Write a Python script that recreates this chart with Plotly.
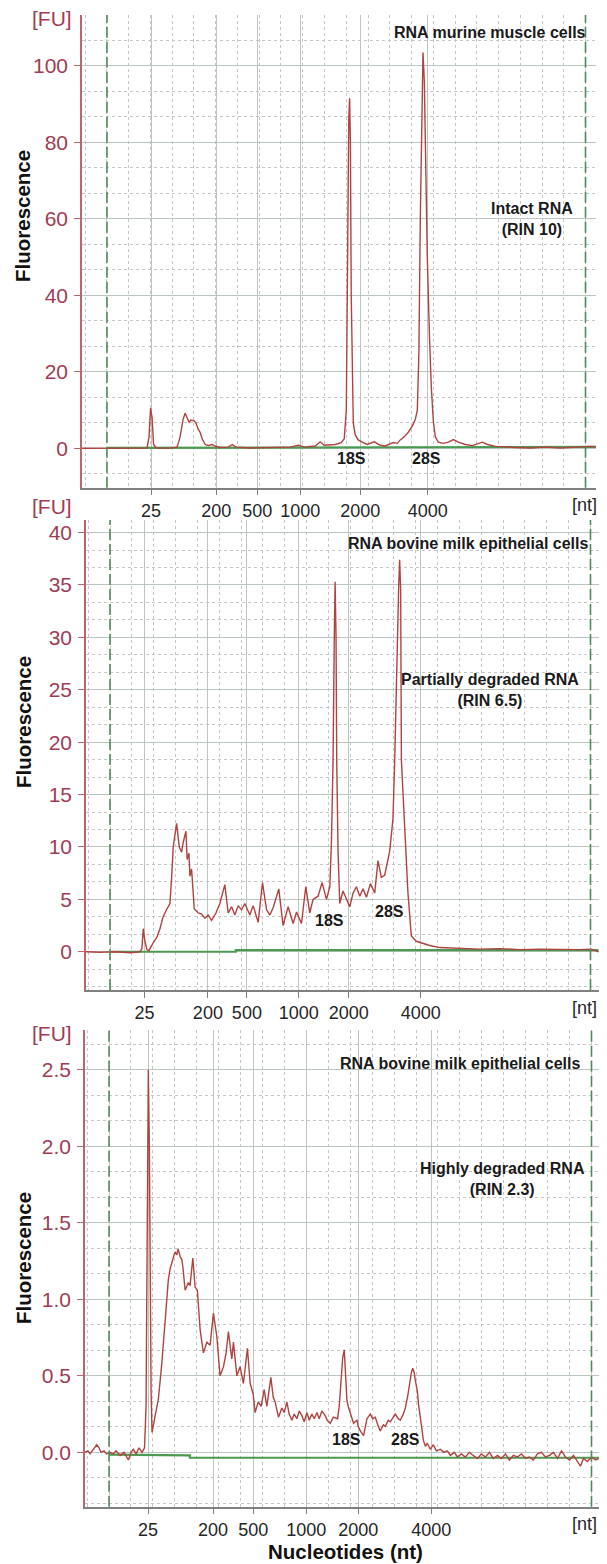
import plotly.graph_objects as go

W, H = 607, 1564          # browser window
OFF = 8                   # default page margin of the html body
FW, FH = W - OFF, H - OFF  # figure size

# ---------------- data ----------------
ladder_labels = ["25", "200", "500", "1000", "2000", "4000"]

# Panel 1 : RNA murine muscle cells, intact (RIN 10) - migration time (s) vs FU
p1_ladder_t = [25.72, 32.05, 36.04, 40.23, 46.07, 52.64]
p1_markers_t = [21.43, 67.98]
p1_points = [
    (19.0, 0.0), (20.75, 0.05), (22.70, 0.0), (24.65, 0.05), (25.33, 0.1), (25.52, 3.0),
    (25.67, 10.5), (25.82, 8.0), (25.96, 1.0), (26.21, 0.1), (27.57, 0.05), (28.25, 0.3),
    (28.54, 3.0), (28.83, 7.5), (29.03, 9.2), (29.22, 8.0), (29.42, 6.8), (29.61, 7.4),
    (29.91, 7.2), (30.10, 6.5), (30.30, 5.0), (30.49, 4.2), (30.69, 2.5), (30.98, 1.0),
    (31.27, 0.7), (31.66, 1.0), (31.95, 0.6), (32.44, 0.2), (33.22, 0.3), (33.61, 1.0),
    (34.00, 0.3), (35.36, 0.1), (37.31, 0.2), (39.25, 0.3), (40.03, 0.8), (40.71, 0.3),
    (41.69, 0.6), (42.17, 1.7), (42.56, 0.8), (43.63, 1.0), (44.22, 1.5), (44.51, 2.5),
    (44.71, 10.0), (44.85, 60.0), (44.95, 86.0), (45.03, 91.5), (45.11, 80.0), (45.19, 40.0),
    (45.29, 15.0), (45.39, 6.6), (45.58, 3.5), (45.87, 2.2), (46.26, 1.6), (46.75, 1.0),
    (47.43, 1.7), (48.02, 0.8), (48.50, 0.6), (48.89, 1.0), (49.28, 1.5), (49.67, 1.3),
    (49.96, 2.2), (50.35, 3.0), (50.74, 4.2), (51.13, 5.8), (51.42, 7.5), (51.62, 10.0),
    (51.77, 25.0), (51.91, 60.0), (52.06, 92.0), (52.17, 103.5), (52.30, 96.0), (52.45, 72.0),
    (52.59, 50.0), (52.79, 30.0), (52.98, 16.0), (53.18, 7.0), (53.37, 3.0), (53.66, 1.6),
    (54.15, 1.3), (54.64, 1.6), (55.13, 2.3), (55.61, 1.6), (56.29, 1.0), (56.98, 0.7),
    (57.46, 1.2), (57.95, 1.6), (58.44, 1.0), (59.22, 0.5), (60.19, 0.4), (61.16, 0.2),
    (62.62, 0.1), (64.08, 0.3), (65.54, 0.1), (67.00, 0.3), (67.98, 0.6), (68.47, 0.5),
    (69.0, 0.4),
]
p1_base_t = [21.43, 69.0]
p1_base_fu = [0.1, 0.4]

# Panel 2 : RNA bovine milk epithelial cells, partially degraded (RIN 6.5)
p2_ladder_t = [24.70, 30.88, 34.68, 39.74, 44.61, 51.62]
p2_markers_t = [21.34, 68.17]
p2_points = [
    (19.0, 0.0), (20.36, -0.05), (21.82, 0.0), (23.28, -0.1), (24.26, 0.0), (24.45, 0.3),
    (24.58, 2.2), (24.74, 1.0), (24.94, 0.2), (25.13, 0.1), (25.52, 0.8), (25.91, 1.4),
    (26.21, 2.2), (26.50, 3.3), (26.89, 4.1), (27.18, 4.6), (27.34, 7.0), (27.50, 10.0),
    (27.83, 12.25), (28.09, 10.0), (28.32, 9.5), (28.47, 10.4), (28.74, 11.5), (28.86, 8.8),
    (29.03, 9.4), (29.13, 7.2), (29.29, 7.9), (29.55, 4.1), (29.93, 3.7), (30.27, 3.6),
    (30.59, 3.2), (30.91, 3.5), (31.24, 3.0), (31.66, 3.7), (32.05, 4.6), (32.53, 6.4),
    (32.86, 3.7), (33.19, 4.3), (33.51, 3.5), (33.83, 4.4), (34.16, 4.0), (34.48, 4.6),
    (34.97, 3.5), (35.29, 4.4), (35.78, 2.8), (36.20, 6.6), (36.60, 4.0), (36.92, 3.5),
    (37.24, 4.2), (37.79, 6.0), (38.21, 2.5), (38.70, 4.3), (39.19, 2.7), (39.52, 3.8),
    (40.00, 2.7), (40.42, 6.2), (40.81, 3.7), (41.13, 5.0), (41.62, 5.3), (42.01, 6.6),
    (42.44, 5.0), (42.76, 6.2), (42.92, 10.4), (43.08, 18.3), (43.20, 30.0), (43.28, 35.3),
    (43.37, 30.0), (43.44, 18.0), (43.57, 9.5), (43.73, 4.6), (44.05, 5.8), (44.38, 5.0),
    (44.71, 4.3), (45.03, 5.6), (45.36, 6.2), (45.68, 5.3), (46.00, 6.0), (46.33, 5.2),
    (46.72, 6.5), (47.14, 5.6), (47.46, 8.7), (47.79, 7.1), (48.11, 7.3), (48.60, 9.6),
    (48.92, 12.7), (49.09, 18.3), (49.33, 30.0), (49.48, 35.0), (49.57, 37.4), (49.67, 34.5),
    (49.74, 18.3), (49.87, 15.0), (50.06, 11.9), (50.38, 5.6), (50.71, 1.5), (51.20, 1.0),
    (51.84, 0.8), (52.50, 0.6), (53.47, 0.4), (55.42, 0.3), (57.37, 0.25), (59.31, 0.3),
    (61.26, 0.2), (63.21, 0.25), (65.15, 0.2), (67.10, 0.2), (68.27, 0.25), (68.95, 0.0),
]
p2_base_t = [21.34, 33.6, 33.6, 68.95]
p2_base_fu = [0.0, 0.0, 0.15, 0.15]

# Panel 3 : RNA bovine milk epithelial cells, highly degraded (RIN 2.3)
p3_ladder_t = [25.13, 31.46, 35.36, 40.52, 45.58, 52.69]
p3_markers_t = [21.34, 68.27]
p3_points = [
    (19.0, 0.0), (19.29, 0.01), (19.49, -0.01), (19.78, 0.02), (20.14, 0.05), (20.36, 0.03),
    (20.56, 0.0), (20.85, 0.01), (21.11, -0.01), (21.43, 0.0), (21.73, -0.01), (22.02, 0.01),
    (22.41, -0.02), (22.80, 0.0), (23.22, -0.05), (23.48, 0.0), (23.70, 0.02), (23.97, -0.01),
    (24.26, 0.03), (24.55, 0.0), (24.79, 0.03), (24.94, 0.3), (25.04, 1.5), (25.16, 2.5),
    (25.26, 2.0), (25.33, 1.2), (25.43, 0.4), (25.52, 0.13), (25.82, 0.23), (26.14, 0.35),
    (26.47, 0.58), (26.79, 0.87), (27.11, 1.13), (27.28, 1.2), (27.60, 1.28), (27.76, 1.31),
    (27.93, 1.29), (28.06, 1.33), (28.25, 1.28), (28.42, 1.26), (28.54, 1.2), (28.74, 1.06),
    (29.06, 1.11), (29.22, 1.09), (29.49, 1.27), (29.71, 1.08), (29.93, 1.06), (30.20, 0.80),
    (30.52, 0.65), (30.85, 0.72), (31.17, 0.70), (31.49, 0.91), (31.82, 0.76), (32.14, 0.50),
    (32.47, 0.56), (32.73, 0.65), (32.95, 0.79), (33.28, 0.61), (33.44, 0.72), (33.77, 0.50),
    (34.09, 0.56), (34.41, 0.45), (34.80, 0.68), (35.07, 0.45), (35.36, 0.38), (35.55, 0.26),
    (35.85, 0.33), (36.14, 0.30), (36.43, 0.41), (36.69, 0.30), (37.08, 0.49), (37.31, 0.36),
    (37.50, 0.33), (37.82, 0.23), (38.15, 0.29), (38.38, 0.26), (38.64, 0.33), (38.86, 0.25),
    (39.13, 0.21), (39.35, 0.25), (39.61, 0.22), (39.84, 0.27), (40.10, 0.24), (40.32, 0.20),
    (40.59, 0.26), (40.81, 0.21), (41.07, 0.25), (41.30, 0.22), (41.56, 0.26), (41.78, 0.22),
    (42.05, 0.27), (42.37, 0.24), (42.56, 0.21), (42.86, 0.19), (43.15, 0.23), (43.57, 0.22),
    (43.73, 0.30), (43.90, 0.45), (44.07, 0.62), (44.22, 0.67), (44.32, 0.55), (44.48, 0.34),
    (44.61, 0.30), (44.80, 0.26), (45.12, 0.19), (45.46, 0.21), (45.58, 0.17), (45.78, 0.14),
    (46.10, 0.11), (46.43, 0.22), (46.75, 0.25), (46.99, 0.22), (47.24, 0.23), (47.48, 0.18),
    (47.72, 0.14), (48.02, 0.18), (48.21, 0.17), (48.50, 0.21), (48.70, 0.20), (48.99, 0.23),
    (49.18, 0.25), (49.48, 0.22), (49.67, 0.21), (49.96, 0.25), (50.16, 0.29), (50.40, 0.37),
    (50.58, 0.45), (50.74, 0.52), (50.88, 0.55), (51.03, 0.52), (51.13, 0.47), (51.33, 0.40),
    (51.45, 0.31), (51.62, 0.24), (51.78, 0.15), (51.91, 0.08), (52.11, 0.04), (52.30, 0.06),
    (52.59, 0.02), (52.89, 0.05), (53.18, 0.01), (53.57, 0.02), (53.89, 0.0), (54.25, 0.01),
    (54.54, -0.02), (54.93, 0.0), (55.22, -0.03), (55.61, -0.01), (56.00, -0.03), (56.39, 0.0),
    (56.78, -0.02), (57.17, -0.04), (57.56, -0.01), (57.95, -0.03), (58.34, 0.0), (58.73, -0.04),
    (59.12, -0.02), (59.51, -0.04), (59.90, -0.01), (60.28, -0.05), (60.67, -0.02), (61.06, -0.03),
    (61.45, -0.01), (61.84, -0.04), (62.23, -0.03), (62.62, -0.05), (63.01, -0.01), (63.40, 0.0),
    (63.79, -0.03), (64.18, -0.02), (64.57, 0.0), (64.96, -0.04), (65.35, 0.01), (65.74, -0.03),
    (66.13, -0.05), (66.52, -0.02), (66.91, -0.06), (67.20, -0.09), (67.49, -0.04), (67.88, -0.06),
    (68.27, -0.03), (68.66, -0.05), (69.0, -0.04),
]
p3_base_t = [21.34, 29.2, 29.2, 69.0]
p3_base_fu = [-0.015, -0.02, -0.035, -0.035]

y_ranges = [(-10.3, 113.3), (-3.65, 41.2), (-0.355, 2.76)]
y_major = [20, 5, 0.5]
x_range = (19, 69)

# ---------------- layout geometry (window pixels) ----------------
px_x = [(82, 596), (86, 599), (85, 599)]
px_y = [(15, 487.7), (520, 990), (1030, 1506.7)]
nt_right = [599, 599, 599]

def fx(p):
    return (p - OFF) / FW

def fy(p):
    return 1 - (p - OFF) / FH

CURVE = "#b0433f"
GREEN = "#4c9a52"
DASHG = "#4f8a5a"
MAROON = "#a03c55"
AXRED = "#b8686c"
GRID = "#bcc6c0"
MINOR = "#c6c6c6"
FONT = "Liberation Sans, Arial, sans-serif"

panels = [
    (p1_points, p1_base_t, p1_base_fu, p1_ladder_t, p1_markers_t),
    (p2_points, p2_base_t, p2_base_fu, p2_ladder_t, p2_markers_t),
    (p3_points, p3_base_t, p3_base_fu, p3_ladder_t, p3_markers_t),
]

fig = go.Figure()
shapes = []
annotations = []
layout = {}

for i, (pts, bt, bf, lad, mk) in enumerate(panels):
    n = "" if i == 0 else str(i + 1)
    xa, ya = "x" + n, "y" + n
    t = [p[0] for p in pts]
    f = [p[1] for p in pts]
    fig.add_trace(go.Scatter(x=bt, y=bf, mode="lines", xaxis=xa, yaxis=ya,
                             line=dict(color=GREEN, width=2.2), hoverinfo="skip", showlegend=False))
    fig.add_trace(go.Scatter(x=t, y=f, mode="lines", xaxis=xa, yaxis=ya,
                             line=dict(color=CURVE, width=1.4), showlegend=False))
    ymin, ymax = y_ranges[i]
    dt_minor = (mk[1] - mk[0]) / 22
    layout["xaxis" + n] = dict(
        domain=[fx(px_x[i][0]), fx(px_x[i][1])], range=list(x_range), anchor=ya,
        tickmode="array", tickvals=lad, ticktext=ladder_labels,
        showgrid=True, gridcolor=GRID, gridwidth=1,
        showline=True, linecolor="#808080", linewidth=1.5,
        ticks="outside", ticklen=6, tickcolor="#808080",
        tickfont=dict(family=FONT, size=18, color="#262626"),
        zeroline=False, fixedrange=True,
        minor=dict(tickmode="linear", tick0=mk[0], dtick=dt_minor, showgrid=True,
                   gridcolor=MINOR, griddash="dot", gridwidth=1, ticks=""),
    )
    yfmt = ".1f" if i == 2 else "d"
    layout["yaxis" + n] = dict(
        domain=[fy(px_y[i][1]), fy(px_y[i][0])], range=[ymin, ymax], anchor=xa,
        tickmode="linear", tick0=0, dtick=y_major[i], tickformat=yfmt,
        showgrid=True, gridcolor=GRID, gridwidth=1,
        showline=True, linecolor=AXRED, linewidth=1.5,
        ticks="outside", ticklen=6, tickcolor=AXRED, ticklabelstandoff=2,
        tickfont=dict(family=FONT, size=21, color=MAROON),
        zeroline=False, fixedrange=True,
        minor=dict(tickmode="linear", tick0=0, dtick=y_major[i] / 3, showgrid=True,
                   gridcolor=MINOR, griddash="dot", gridwidth=1, ticks=""),
    )
    for m in mk:
        shapes.append(dict(type="line", xref=xa, yref=ya + " domain", x0=m, x1=m, y0=0, y1=1,
                           line=dict(color=DASHG, width=1.6, dash="11px,4px"), layer="above"))
    annotations.append(dict(text="[nt]", xref="paper", x=fx(nt_right[i]), yref="paper",
                            y=fy(px_y[i][1] + 17.5), showarrow=False, xanchor="right",
                            yanchor="middle", font=dict(family=FONT, size=18, color="#262626")))

fu_y = [18, 507, 1033]
for yy in fu_y:
    annotations.append(dict(text="[FU]", xref="paper", x=fx(52), yref="paper", y=fy(yy),
                            showarrow=False, xanchor="center", yanchor="middle",
                            font=dict(family=FONT, size=21, color=MAROON)))

fl_y = [216, 722, 1258]
for yy in fl_y:
    annotations.append(dict(text="Fluorescence", xref="paper", x=fx(23), yref="paper", y=fy(yy),
                            textangle=-90, showarrow=False, xanchor="center", yanchor="middle",
                            font=dict(family=FONT, size=20.5, color="#111111", weight="bold")))

bold = dict(family=FONT, size=16, color="#1a1a1a", weight="bold")
titles = [("RNA murine muscle cells", 588, 32),
          ("RNA bovine milk epithelial cells", 590, 543),
          ("RNA bovine milk epithelial cells", 582, 1063)]
for txt, xr, yy in titles:
    annotations.append(dict(text=txt, xref="paper", x=fx(xr), yref="paper", y=fy(yy),
                            showarrow=False, xanchor="right", yanchor="middle", font=bold))

states = [("Intact RNA<br>(RIN 10)", 532, 219.5),
          ("Partially degraded RNA<br>(RIN 6.5)", 490, 690),
          ("Highly degraded RNA<br>(RIN 2.3)", 502, 1179)]
for txt, xc, yy in states:
    annotations.append(dict(text=txt, xref="paper", x=fx(xc), yref="paper", y=fy(yy),
                            showarrow=False, xanchor="center", yanchor="middle", align="center",
                            font=bold))

# rRNA peak labels (data coordinates)
peak_labels = [("x", "y", 45.26, -2.6, 52.50, -2.6),
               ("x2", "y2", 42.76, 3.0, 48.57, 3.8),
               ("x3", "y3", 44.48, 0.082, 50.16, 0.082)]
for xa, ya, x18, y18, x28, y28 in peak_labels:
    annotations.append(dict(text="18S", xref=xa, yref=ya, x=x18, y=y18, showarrow=False,
                            xanchor="center", yanchor="middle", font=bold))
    annotations.append(dict(text="28S", xref=xa, yref=ya, x=x28, y=y28, showarrow=False,
                            xanchor="center", yanchor="middle", font=bold))

annotations.append(dict(text="Nucleotides (nt)", xref="paper", x=fx(345), yref="paper", y=fy(1551),
                        showarrow=False, xanchor="center", yanchor="middle",
                        font=dict(family=FONT, size=20.5, color="#111111", weight="bold")))

fig.update_layout(
    width=FW, height=FH, autosize=False,
    margin=dict(l=0, r=0, t=0, b=0),
    paper_bgcolor="white", plot_bgcolor="white",
    shapes=shapes, annotations=annotations, showlegend=False,
    **layout,
)

fig.write_html("out.html")
